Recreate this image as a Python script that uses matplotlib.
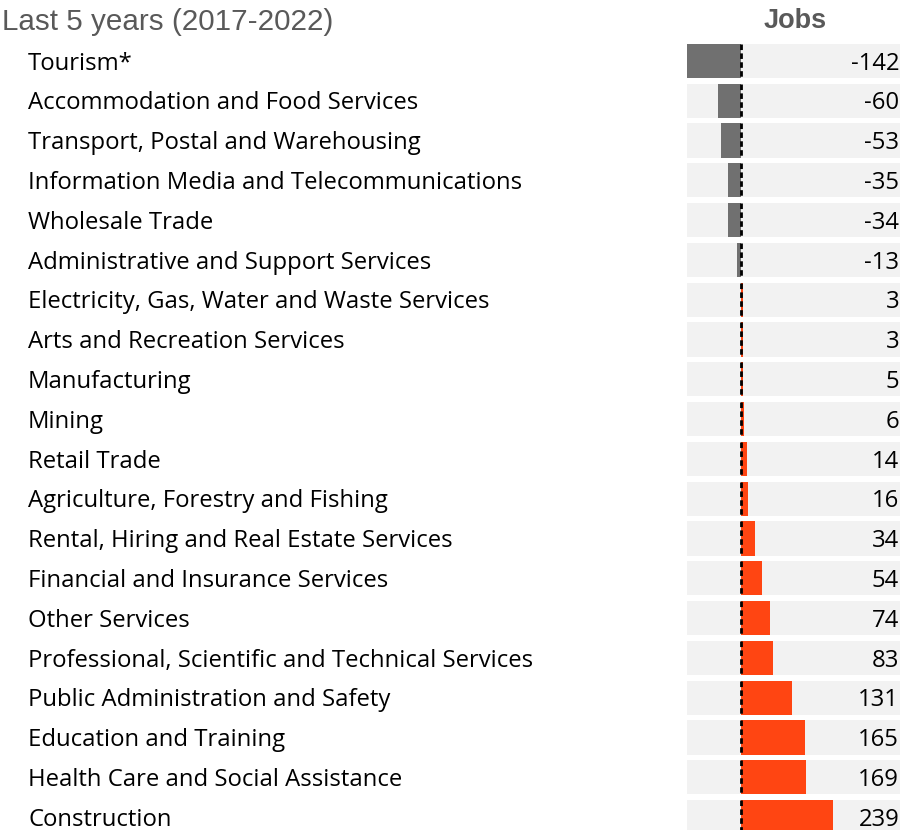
import matplotlib.pyplot as plt
import matplotlib.transforms as mtrans
import numpy as np

industries = ['Tourism*', 'Accommodation and Food Services', 'Transport, Postal and Warehousing',
              'Information Media and Telecommunications', 'Wholesale Trade',
              'Administrative and Support Services', 'Electricity, Gas, Water and Waste Services',
              'Arts and Recreation Services', 'Manufacturing', 'Mining', 'Retail Trade',
              'Agriculture, Forestry and Fishing', 'Rental, Hiring and Real Estate Services',
              'Financial and Insurance Services', 'Other Services',
              'Professional, Scientific and Technical Services', 'Public Administration and Safety',
              'Education and Training', 'Health Care and Social Assistance', 'Construction']
jobs = [-142, -60, -53, -35, -34, -13, 3, 3, 5, 6, 14, 16, 34, 54, 74, 83, 131, 165, 169, 239]

W, H = 902, 830
fig = plt.figure(figsize=(W / 100, H / 100), dpi=100)
ax = fig.add_axes([687 / W, (830 - 837) / H, 213 / W, 796 / H])

y = np.arange(len(jobs))
xmin, xmax = -142, 413
ax.set_xlim(xmin, xmax)
ax.set_ylim(len(jobs) - 0.5, -0.5)

# grey background band for each row
ax.barh(y, xmax - xmin, left=xmin, height=0.86, color='#F2F2F2', zorder=1)
colors = ['#707070' if v < 0 else '#FF4512' for v in jobs]
ax.barh(y, jobs, height=0.86, color=colors, zorder=2)
ax.vlines(np.zeros(len(y)), y - 0.43, y + 0.43, colors='black', linestyles=(0, (2, 1.2)), lw=2, zorder=3)

for i, v in enumerate(jobs):
    ax.text(411, i + 0.07, str(v), ha='right', va='center', fontsize=17.2, family='Open Sans',
            color='black', zorder=4)

tr = mtrans.blended_transform_factory(fig.transFigure, ax.transData)
for i, name in enumerate(industries):
    ax.text(28 / W, i + 0.07, name, transform=tr, ha='left', va='center', fontsize=17.2,
            family='Open Sans', color='black')

ax.axis('off')

fig.text(2 / W, 1 - 22 / H, 'Last 5 years (2017-2022)', ha='left', va='center',
         fontsize=21.3, family='Liberation Sans', color='#595959')
fig.text(795 / W, 1 - 21 / H, 'Jobs', ha='center', va='center', fontsize=19.5,
         family='Liberation Sans', fontweight='bold', color='#595959')

fig.savefig('out.png', dpi=100)
